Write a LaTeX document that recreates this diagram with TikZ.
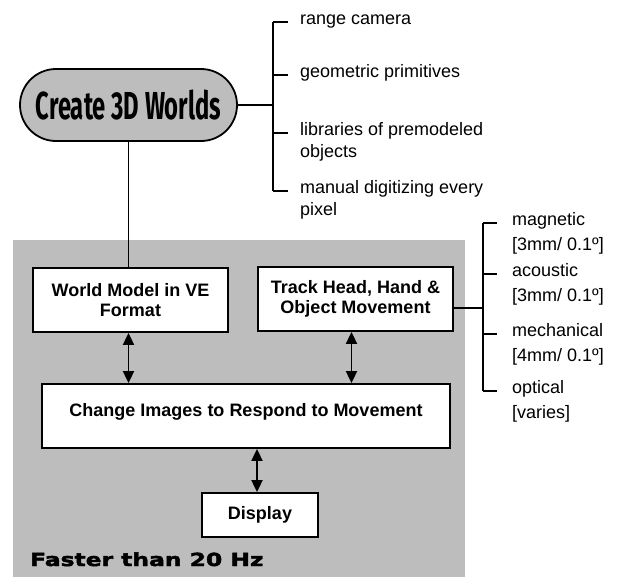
\documentclass[tikz,border=0pt]{standalone}
\usepackage{fontspec}
\setmainfont{Liberation Sans}
\newfontfamily\pillfont[FakeStretch=0.61]{Fira Sans}
\newfontfamily\ratefont[FakeStretch=1.3,FakeBold=2.5]{DejaVu Sans}
\usepackage{tikz}
\usetikzlibrary{arrows.meta,positioning,shapes.misc}
\definecolor{stipple}{gray}{0.74}

\begin{document}
\begin{tikzpicture}[
    x=1pt, y=-1pt,
    >={Triangle[length=12pt,width=11pt]},
    pill/.style={
		rounded rectangle,
		draw=black,
		line width=1.8pt,
		fill=stipple,
		minimum width=217pt,
		minimum height=72pt,
		inner sep=0pt,
		font=\pillfont\bfseries\fontsize{39}{39}\selectfont
	},
    box/.style={
		rectangle,
		draw=black,
		line width=1.8pt,
		fill=white,
		align=center,
		inner sep=0pt,
		font=\bfseries\fontsize{18}{20}\selectfont
	},
    item/.style={
		anchor=base west,
		inner sep=0pt,
		font=\fontsize{18}{22}\selectfont
	},
    subitem/.style={
		item,
		font=\fontsize{18}{25}\selectfont
	},
    link/.style={line width=1.4pt},
    flow/.style={line width=1.8pt, <->}
  ]
  \useasboundingbox (0,0) rectangle (619,579);

  % shaded area of the real-time loop
  \fill [stipple] (13,240) rectangle (465,577);

  % We start by placing the blocks
  \node [pill] (worlds) at (128.5,105) {Create 3D Worlds};

  \node [box, minimum width=195pt, minimum height=64pt] (world) at (130.5,300)
  {World Model in VE\\Format};
  \node [box, minimum width=195pt, minimum height=64pt] (track) at (355.5,299)
  {Track Head, Hand \&\\Object Movement};
  \node [box, minimum width=408pt, minimum height=64pt, text height=13pt, text depth=13pt] (change) at (246,416)
  {Change Images to Respond to Movement};
  \node [box, minimum width=116pt, minimum height=44pt] (display) at (260,515) {Display};

  \node [anchor=base west, inner sep=0pt, font=\ratefont\bfseries\fontsize{18}{18}\selectfont] (rate) at (30,566)
  {Faster than 20 Hz};

  % ways to build the worlds
  \node [item] (cam) at (300,24) {range camera};
  \node [item] (prim) at (300,77) {geometric primitives};
  \node [item] (lib) at (300,135)
  {\begin{tabular}[t]{@{}l@{}}libraries of premodeled\\objects\end{tabular}};
  \node [item] (man) at (300,193)
  {\begin{tabular}[t]{@{}l@{}}manual digitizing every\\pixel\end{tabular}};

  % tracker types
  \node [subitem] (mag) at (512,225)
  {\begin{tabular}[t]{@{}l@{}}magnetic\\{[3mm/ 0.1º]}\end{tabular}};
  \node [subitem] (aco) at (512,276)
  {\begin{tabular}[t]{@{}l@{}}acoustic\\{[3mm/ 0.1º]}\end{tabular}};
  \node [subitem] (mec) at (512,336)
  {\begin{tabular}[t]{@{}l@{}}mechanical\\{[4mm/ 0.1º]}\end{tabular}};
  \node [subitem] (opt) at (512,393)
  {\begin{tabular}[t]{@{}l@{}}optical\\{[varies]}\end{tabular}};

  % brackets
  \coordinate (spineL) at ([shift={(-27pt,2pt)}]cam.base west);
  \coordinate (spineR) at ([shift={(-29pt,2pt)}]mag.base west);
  \draw [link] (spineL) -- ([shift={(-27pt,2pt)}]man.base west);
  \draw [link] (spineR) -- ([shift={(-29pt,2pt)}]opt.base west);
  \foreach \n in {cam,prim,lib,man}
    \draw [link] ([shift={(-12pt,2pt)}]\n.base west) -- ++(-15,0);
  \foreach \n in {mag,aco,mec,opt}
    \draw [link] ([shift={(-15pt,2pt)}]\n.base west) -- ++(-14,0);

  \draw [link] (worlds.east) -- (worlds.east -| spineL);
  \draw [link] ([yshift=-9pt]track.east) -- ([yshift=-9pt]track.east -| spineR);
  \draw [link] (worlds.south) -- (worlds.south |- world.north);

  % the loop
  \draw [flow] ([xshift=-2pt]world.south) -- ([xshift=-2pt]world.south |- change.north);
  \draw [flow] ([xshift=-4pt]track.south) -- ([xshift=-4pt]track.south |- change.north);
  \draw [flow] ([xshift=-3pt]display.north) -- ([xshift=-3pt]display.north |- change.south);

\end{tikzpicture}
\end{document}
